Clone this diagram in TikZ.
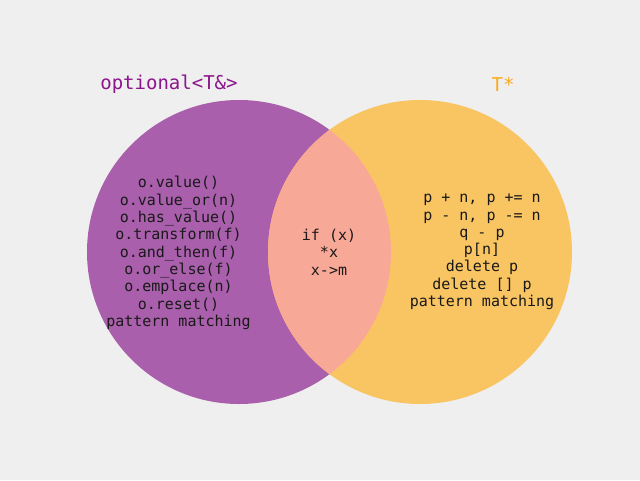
\documentclass[tikz,border=0pt]{standalone}
\usepackage{fontspec}
\newfontfamily\monof{DejaVu Sans Mono}
\definecolor{bgc}{RGB}{239,239,239}
\definecolor{purp}{RGB}{169,95,171}
\definecolor{oran}{RGB}{249,196,98}
\definecolor{mixc}{RGB}{248,168,150}
\definecolor{purptxt}{RGB}{140,20,140}
\definecolor{orantxt}{RGB}{250,170,30}
\definecolor{txt}{RGB}{25,25,25}
\tikzset{
  settext/.style={font=\monof\fontsize{15}{17.3}\selectfont, text=txt, align=center, inner sep=0pt},
  titletext/.style={font=\monof\fontsize{19}{22}\selectfont, inner sep=0pt}
}
\begin{document}
\begin{tikzpicture}[x=1pt,y=-1pt]
\fill[bgc] (0,0) rectangle (640,480);
\useasboundingbox (0,0) rectangle (640,480);
\fill[purp] (239,252) circle (152);
\fill[oran] (420,252) circle (152);
\begin{scope}
  \clip (239,252) circle (152);
  \fill[mixc] (420,252) circle (152);
\end{scope}
\node[titletext, text=purptxt] (tl) at (169,84) {optional<T\&>};
\node[titletext, text=orantxt] (tr) at (503,84) {T*};
\node[settext] (left) at (178.5,253) {o.value()\\o.value\_or(n)\\o.has\_value()\\o.transform(f)\\o.and\_then(f)\\o.or\_else(f)\\o.emplace(n)\\o.reset()\\pattern matching};
\node[settext] (mid) at (329,252) {if (x)\\*x\\x->m};
\node[settext] (right) at (482,252) {p + n, p += n\\p - n, p -= n\\q - p\\p[n]\\delete p\\delete [] p\\pattern matching};
\end{tikzpicture}
\end{document}
